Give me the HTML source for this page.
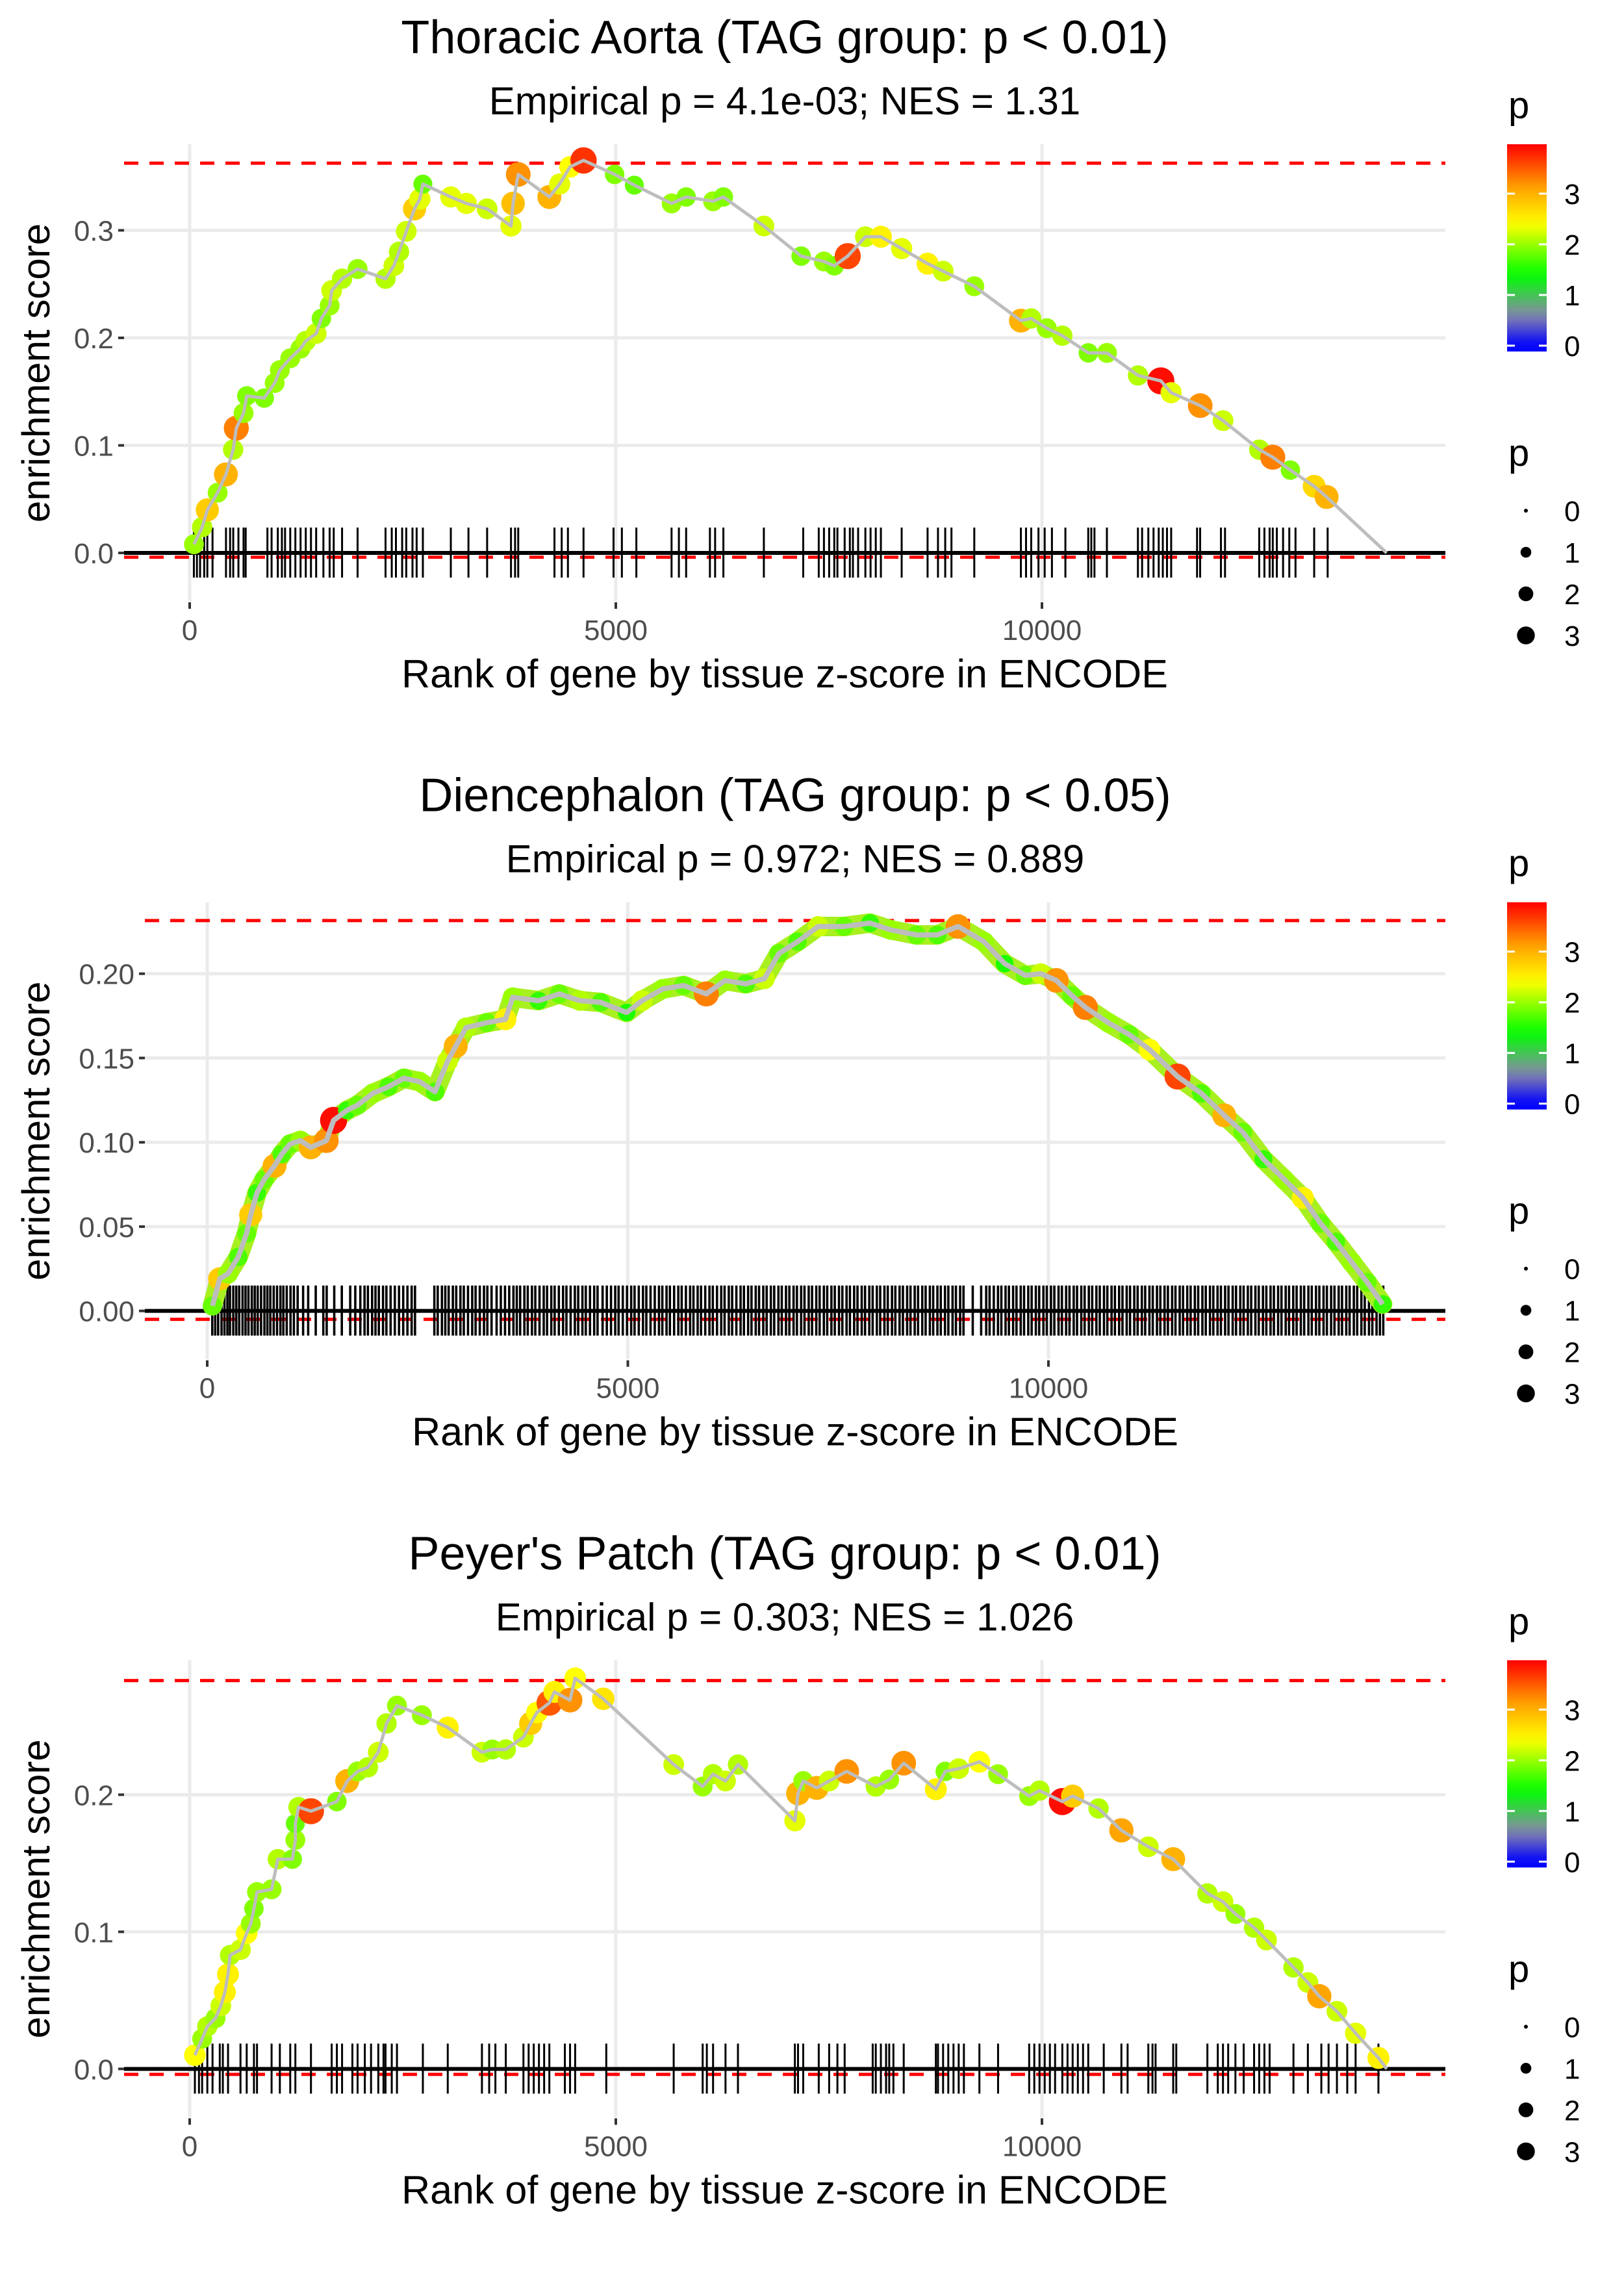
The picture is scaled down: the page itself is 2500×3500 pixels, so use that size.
<!DOCTYPE html>
<html><head><meta charset="utf-8"><style>
html,body{margin:0;padding:0;background:#fff}
svg{display:block}
text{font-family:"Liberation Sans",Arial,sans-serif}
</style></head>
<body>
<svg id="chart" xmlns="http://www.w3.org/2000/svg" width="2500" height="3500" viewBox="0 0 2500 3500"></svg>
<script>
// ---------- Panel 1: Thoracic Aorta ----------
const p1Rank=[50,146,207,328,425,510,547,632,670,875,997,1058,1180,1300,1362,1484,1545,1642,1666,1788,1970,2298,2395,2456,2541,2638,2700,2736,3064,3246,3490,3770,3794,3855,4220,4341,4463,4621,4986,5217,5655,5825,6141,6262,6737,7174,7442,7563,7721,7928,8110,8354,8658,8841,9206,9753,9874,10057,10239,10544,10763,11127,11395,11516,11857,12125,12550,12708,12915,13194,13340,14045];
const p1ES=[.008,.024,.040,.056,.073,.096,.116,.13,.146,.144,.158,.17,.181,.19,.197,.204,.218,.23,.244,.255,.264,.255,.267,.28,.299,.32,.329,.343,.331,.325,.32,.304,.325,.352,.331,.343,.359,.365,.352,.342,.325,.331,.327,.331,.304,.276,.271,.267,.276,.294,.294,.283,.269,.262,.248,.216,.218,.209,.202,.186,.186,.165,.160,.149,.137,.123,.096,.089,.077,.062,.052,0];
const p1P=[2,2.1,2.8,2,3,2.1,3.3,2,1.9,1.9,2,2,2,2,2.1,2.2,1.9,2,2.2,2.1,2,2.1,2.2,2.1,2.2,2.8,2.3,1.8,2.3,2.3,2.2,2.3,2.9,3.2,3,2.3,2.4,3.7,1.9,1.8,2,1.9,2,1.9,2.2,1.9,2,1.9,3.6,2.2,2.5,2.3,2.5,2.2,2,3,2.1,2,2.1,1.9,2,2.1,3.9,2.3,3.2,2.2,2.1,3.3,1.9,2.7,3,0];
const p1Rug=[49,85,122,170,207,268,426,474,511,572,632,657,912,961,1034,1082,1119,1180,1240,1301,1362,1423,1484,1569,1642,1690,1788,1970,2298,2371,2420,2493,2541,2614,2663,2736,3064,3271,3490,3770,3818,3855,4280,4365,4438,4621,4973,5071,5241,5654,5740,5825,6104,6165,6262,6737,7199,7381,7442,7503,7563,7600,7685,7746,7782,7843,7928,7989,8050,8110,8354,8658,8780,8865,8938,9206,9753,9813,9874,9959,10032,10117,10275,10543,10579,10616,10762,11126,11175,11248,11309,11370,11418,11467,11516,11820,11856,12100,12148,12549,12610,12671,12708,12756,12829,12902,12975,13194,13352];
const p1YTicks=[0,0.1,0.2,0.3];
const p1YLabels=["0.0","0.1","0.2","0.3"];
const p1Max=[0.3625], p1Min=[-0.004];

// ---------- Panel 2: Diencephalon ----------
const p2Rank=[62,148,246,369,468,517,591,677,800,886,985,1108,1231,1416,1502,1662,1785,1970,2154,2339,2523,2708,2856,2954,3077,3324,3545,3631,3939,4185,4431,4678,4986,5170,5416,5663,5933,6155,6401,6623,6795,7017,7263,7571,7879,8125,8432,8679,8925,9233,9479,9725,9910,10094,10279,10439,10710,10956,11202,11535,11818,12089,12310,12556,12802,13024,13233,13418,13603,13788,13972];
const p2ES=[.003,.019,.022,.032,.046,.057,.07,.078,.086,.093,.099,.101,.097,.101,.113,.119,.122,.129,.133,.138,.136,.13,.148,.157,.168,.171,.173,.186,.184,.188,.184,.183,.177,.184,.191,.193,.188,.196,.194,.197,.212,.219,.228,.228,.23,.226,.223,.223,.228,.219,.206,.199,.2,.196,.187,.18,.171,.164,.155,.139,.129,.116,.106,.09,.078,.067,.052,.041,.029,.017,.004];
const p2P=[1.8,2.8,2,1.7,1.8,2.8,1.6,1.8,3,1.7,1.8,2,3,3.2,3.9,1.6,1.8,2,1.7,1.8,2,1.7,2.2,3,2.1,1.8,2.5,2,1.6,1.8,2.1,1.7,1.5,2.2,2,1.8,3.3,2,1.7,2.2,1.8,1.7,2.2,1.8,1.6,2,1.8,1.7,3.2,2,1.5,1.8,2.2,3.2,1.8,3.3,2,1.8,2.4,3.6,1.7,3,1.8,1.6,2,2.5,1.8,1.7,2,1.8,1.6];
const p2Rug=[60,95,130,170,205,240,270,310,345,380,420,455,490,530,565,600,640,680,715,750,790,830,870,905,945,990,1030,1075,1140,1200,1290,1380,1420,1510,1600,1700,1760,1820,1870,1910,1960,2000,2040,2090,2130,2180,2230,2280,2330,2380,2430,2470,2700,2740,2790,2830,2870,2920,2960,3010,3050,3100,3150,3190,3240,3290,3330,3380,3440,3490,3540,3590,3640,3680,3720,3770,3810,3860,3900,3950,4000,4040,4090,4130,4180,4230,4270,4320,4370,4410,4460,4500,4550,4600,4640,4700,4750,4800,4850,4890,4940,4990,5040,5080,5130,5180,5220,5270,5320,5370,5410,5460,5500,5550,5600,5640,5690,5740,5780,5830,5870,5920,5970,6010,6060,6110,6150,6200,6240,6290,6340,6380,6430,6470,6520,6560,6610,6650,6700,6740,6790,6830,6880,6920,6970,7010,7060,7100,7150,7190,7240,7280,7330,7370,7420,7460,7510,7550,7600,7640,7690,7730,7780,7820,7870,7910,7960,8000,8050,8090,8140,8180,8230,8270,8320,8360,8410,8450,8500,8540,8590,8630,8680,8720,8770,8810,8860,8900,8950,8990,9100,9200,9260,9300,9350,9400,9440,9490,9530,9580,9620,9670,9710,9760,9800,9850,9890,9940,9980,10030,10070,10120,10160,10210,10250,10300,10340,10390,10430,10480,10520,10570,10610,10660,10700,10750,10790,10840,10880,10930,10970,11020,11060,11110,11150,11200,11240,11290,11330,11380,11420,11470,11510,11560,11600,11650,11690,11740,11780,11830,11870,11920,11960,12010,12050,12100,12140,12190,12230,12280,12320,12370,12410,12460,12500,12550,12590,12640,12680,12730,12770,12820,12860,12910,12950,13000,13040,13090,13130,13180,13220,13270,13310,13360,13400,13450,13490,13540,13580,13630,13670,13720,13760,13810,13850,13900,13940,13980];
const p2YTicks=[0,0.05,0.1,0.15,0.2];
const p2YLabels=["0.00","0.05","0.10","0.15","0.20"];
const p2Max=[0.2315], p2Min=[-0.005];

// ---------- Panel 3: Peyer's Patch ----------
const p3Rank=[61,146,207,304,365,413,450,474,596,669,717,754,790,961,1034,1204,1240,1240,1277,1423,1727,1848,1970,2091,2213,2310,2432,2724,3028,3429,3551,3709,3916,4001,4074,4220,4280,4463,4523,4852,5679,6019,6141,6287,6433,7101,7138,7199,7357,7503,7709,8050,8208,8378,8755,8865,9023,9266,9485,9850,9971,10239,10360,10664,10932,11248,11540,11941,12124,12270,12489,12635,12951,13120,13254,13461,13680,13948,14045];
const p3ES=[.010,.022,.031,.037,.046,.056,.069,.083,.087,.099,.106,.117,.129,.131,.153,.153,.167,.179,.191,.188,.195,.21,.217,.22,.231,.252,.265,.258,.249,.231,.233,.233,.242,.252,.26,.267,.275,.269,.285,.27,.222,.206,.215,.21,.222,.181,.201,.21,.205,.21,.217,.206,.211,.223,.204,.217,.219,.224,.215,.199,.203,.195,.199,.19,.174,.162,.153,.128,.122,.113,.103,.094,.074,.063,.053,.042,.026,.008,0];
const p3P=[2.4,2,2.1,2,2.2,2.5,2.5,2.1,2.2,2.4,2,1.9,2,2,2.1,1.9,2,1.8,2.1,3.6,1.9,3,2,2.1,2.2,2.1,2,2,2.5,2.2,2,2.1,2.2,2.8,2.4,3.5,2.5,3.2,2.4,2.6,2.2,2,2.1,2.2,2.1,2.3,3,2,3,2.2,3.2,2.1,2,3.2,2.5,1.9,2.2,2.4,2,2,2.1,3.9,2.8,2.1,3.1,2.2,3,2.1,2.2,2,2.1,2.2,2.1,2.2,3.1,2.2,2.3,2.5,0];
const p3Rug=[61,109,146,207,268,353,389,450,596,669,754,790,961,1058,1180,1240,1423,1666,1727,1788,1909,1970,2055,2128,2213,2274,2298,2371,2432,2736,3028,3429,3514,3587,3709,3916,3977,4037,4098,4159,4220,4402,4463,4523,4888,5679,6019,6068,6141,6287,6433,7101,7138,7199,7381,7503,7600,7685,8014,8050,8110,8171,8208,8257,8378,8755,8780,8840,8901,8962,9023,9084,9266,9485,9850,9910,9971,10032,10093,10154,10239,10300,10360,10421,10482,10543,10725,10932,11005,11248,11297,11333,11540,11576,11941,12063,12124,12185,12270,12367,12489,12549,12610,12671,12951,13120,13278,13363,13461,13582,13680,13948];
const p3YTicks=[0,0.1,0.2];
const p3YLabels=["0.0","0.1","0.2"];
const p3Max=[0.2833], p3Min=[-0.004];

const xTicks=[0,5000,10000];
const xTickLabels=["0","5000","10000"];
const legendTicks=[0,1,2,3];

const NS="http://www.w3.org/2000/svg";
const svg=document.getElementById('chart');
function el(tag,attrs,parent){const e=document.createElementNS(NS,tag);for(const k in attrs)e.setAttribute(k,attrs[k]);(parent||svg).appendChild(e);return e;}
function txt(str,attrs,parent){const e=el('text',attrs,parent);e.textContent=str;return e;}

const stops=[[0,[0,0,255]],[0.6,[136,136,170]],[1.4,[0,255,0]],[2.4,[255,255,0]],[3.1,[255,165,0]],[3.97,[255,0,0]]];
function pColor(p){
  if(p<=stops[0][0])return 'rgb(0,0,255)';
  for(let i=1;i<stops.length;i++){if(p<=stops[i][0]){const a=stops[i-1],b=stops[i];const t=(p-a[0])/(b[0]-a[0]);const c=a[1].map((v,j)=>Math.round(v+(b[1][j]-v)*t));return `rgb(${c[0]},${c[1]},${c[2]})`;}}
  return 'rgb(255,0,0)';
}
function pRadius(p){return Math.sqrt(25+105*Math.max(p,0));}
function legRadius(p){return Math.sqrt(9+60*Math.max(p,0));}

const panels=[
 {title:"Thoracic Aorta (TAG group: p < 0.01)",sub:"Empirical p = 4.1e-03; NES = 1.31",rank:p1Rank,es:p1ES,p:p1P,rug:p1Rug,yt:p1YTicks,yl:p1YLabels,mx:p1Max[0],mn:p1Min[0],x0:292,kx:0.1312,y0:851,ky:1655,left:191,band:0,rugW:3},
 {title:"Diencephalon (TAG group: p < 0.05)",sub:"Empirical p = 0.972; NES = 0.889",rank:p2Rank,es:p2ES,p:p2P,rug:p2Rug,yt:p2YTicks,yl:p2YLabels,mx:p2Max[0],mn:p2Min[0],x0:319,kx:0.1295,y0:851,ky:2595,left:223,band:1,rugW:3.6},
 {title:"Peyer's Patch (TAG group: p < 0.01)",sub:"Empirical p = 0.303; NES = 1.026",rank:p3Rank,es:p3ES,p:p3P,rug:p3Rug,yt:p3YTicks,yl:p3YLabels,mx:p3Max[0],mn:p3Min[0],x0:292,kx:0.1312,y0:851,ky:2110,left:191,band:0,rugW:3}
];

let gradId=0;
panels.forEach((c,i)=>{
  const g=el('g',{transform:`translate(0,${(i*3500/3).toFixed(2)})`});
  
  
  const X=r=>c.x0+r*c.kx;
  const Y=v=>c.y0-v*c.ky;
  const right=2225, top=222, bottom=925, cx=(c.left+right)/2;
  const t=txt(c.title,{x:cx,y:82,'text-anchor':'middle','font-size':72,fill:'#000'},g);
  
  const s=txt(c.sub,{x:cx,y:176,'text-anchor':'middle','font-size':60,fill:'#000'},g);
  
  c.yt.forEach((v,j)=>{
    const gl=el('line',{x1:c.left,x2:right,y1:Y(v),y2:Y(v),stroke:'#ebebeb','stroke-width':5},g);
    
    el('line',{x1:c.left-9,x2:c.left,y1:Y(v),y2:Y(v),stroke:'#333','stroke-width':4},g);
    const tl=txt(c.yl[j],{x:c.left-16,y:Y(v)+16,'text-anchor':'end','font-size':44,fill:'#4d4d4d'},g);
    
  });
  xTicks.forEach((v,j)=>{
    const gl=el('line',{x1:X(v),x2:X(v),y1:top,y2:bottom,stroke:'#ebebeb','stroke-width':5},g);
    
    el('line',{x1:X(v),x2:X(v),y1:bottom+2,y2:bottom+12,stroke:'#333','stroke-width':4},g);
    const tl=txt(xTickLabels[j],{x:X(v),y:985,'text-anchor':'middle','font-size':44,fill:'#4d4d4d'},g);
    
  });
  [c.mx,c.mn].forEach(v=>{
    const rl=el('line',{x1:c.left,x2:right,y1:Y(v),y2:Y(v),stroke:'#ff0000','stroke-width':5,'stroke-dasharray':'22,17'},g);
    
  });
  c.rug.forEach(r=>{
    const rl=el('line',{x1:X(r),x2:X(r),y1:812,y2:889,stroke:'#000','stroke-width':c.rugW},g);
    
  });
  const zl=el('line',{x1:c.left,x2:right,y1:Y(0),y2:Y(0),stroke:'#000','stroke-width':6},g);
  
  const d=c.rank.map((r,j)=>(j?'L':'M')+X(r).toFixed(1)+','+Y(c.es[j]).toFixed(1)).join(' ');
  if(c.band){
    const b=el('path',{d:d,fill:'none',stroke:'#a8f020','stroke-width':30,'stroke-linejoin':'round','stroke-linecap':'round'},g);
    
  }
  c.rank.forEach((r,j)=>{
    if(j===c.rank.length-1 && c.p[j]===0) return;
    const pt=el('circle',{cx:X(r),cy:Y(c.es[j]),r:pRadius(c.p[j]),fill:pColor(c.p[j])},g);
    
  });
  const ln=el('path',{d:d,fill:'none',stroke:'#bdbdbd','stroke-width':c.band?8:5,'stroke-linejoin':'round'},g);
  
  const xt=txt("Rank of gene by tissue z-score in ENCODE",{x:cx,y:1058,'text-anchor':'middle','font-size':61,fill:'#000'},g);
  
  const yt=txt("enrichment score",{x:0,y:0,'text-anchor':'middle','font-size':60,fill:'#000',transform:`translate(76,574) rotate(-90)`},g);
  
  const lp=txt("p",{x:2322,y:182,'font-size':58,fill:'#000'},g);
  
  const gid='grad'+(gradId++);
  const defs=el('defs',{},g);
  const lg=el('linearGradient',{id:gid,x1:0,y1:1,x2:0,y2:0},defs);
  const cbTop=222,cbBot=541,lz=532,lk=78;
  const pBot=(lz-cbBot)/lk, pTop=(lz-cbTop)/lk;
  for(let k=0;k<=20;k++){const pv=pBot+(pTop-pBot)*k/20;el('stop',{offset:(k/20),'stop-color':pColor(pv)},lg);}
  const cb=el('rect',{x:2320,y:cbTop,width:61,height:cbBot-cbTop,fill:`url(#${gid})`},g);
  
  legendTicks.forEach(v=>{
    const yy=lz-v*lk;
    el('line',{x1:2320,x2:2332,y1:yy,y2:yy,stroke:'#fff','stroke-width':3},g);
    el('line',{x1:2369,x2:2381,y1:yy,y2:yy,stroke:'#fff','stroke-width':3},g);
    const l=txt(String(v),{x:2408,y:yy+16,'font-size':44,fill:'#000'},g);
    
  });
  const sp=txt("p",{x:2322,y:717,'font-size':58,fill:'#000'},g);
  
  legendTicks.forEach((v,k)=>{
    const yy=786+k*64;
    const dot=el('circle',{cx:2349,cy:yy,r:legRadius(v),fill:'#000'},g);
    
    const l=txt(String(v),{x:2408,y:yy+16,'font-size':44,fill:'#000'},g);
    
  });
});
</script>
</body></html>
